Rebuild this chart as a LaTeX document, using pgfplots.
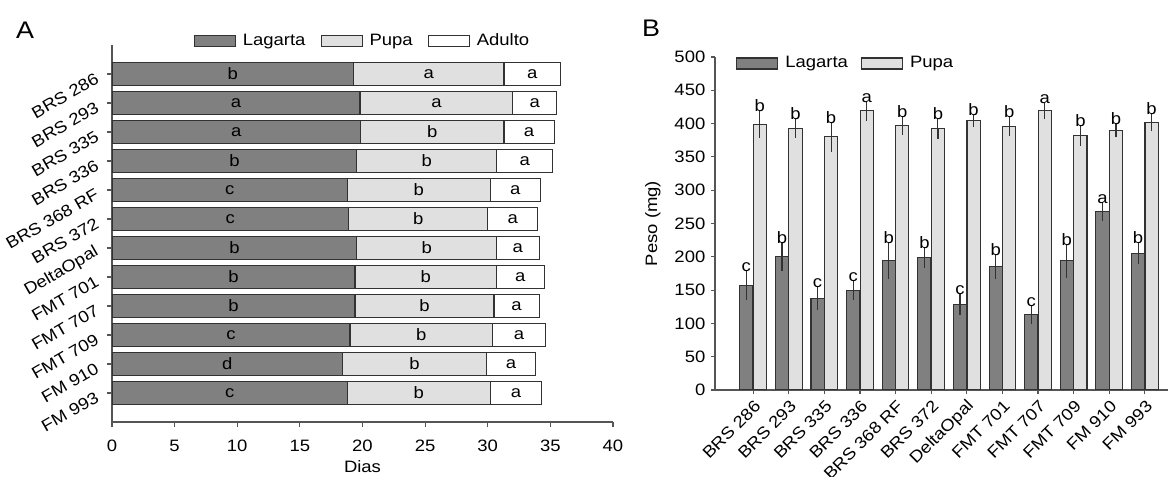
\documentclass[border=0pt]{standalone}
\usepackage{fontspec}
\setmainfont[FakeStretch=1.12]{Liberation Sans}
\usepackage{pgfplots}
\pgfplotsset{compat=1.18}
\usepackage{pgfplotstable}
\definecolor{lag}{RGB}{128,128,128}
\definecolor{pup}{RGB}{224,224,224}
\definecolor{edge}{RGB}{50,50,50}
\definecolor{axc}{RGB}{85,85,85}

\pgfplotstableread{
idx L P A lL lP lA
0 19.30 12.00 4.50 b a a
1 19.80 12.20 3.50 a a a
2 19.85 11.45 4.00 a b a
3 19.55 11.15 4.50 b b a
4 18.80 11.40 4.00 c b a
5 18.90 11.10 4.00 c b a
6 19.55 11.15 3.40 b b a
7 19.40 11.30 3.80 b b a
8 19.40 11.10 3.60 b b a
9 19.00 11.40 4.20 c b a
10 18.40 11.50 3.90 d b a
11 18.80 11.40 4.10 c b a
}\dataA

\pgfplotstableread{
idx Lg LgE Pp PpE lL lP
0 157 15 399 13 c b
1 200 14 393 7 b b
2 138 10 380 15 c b
3 150 8 419 7 c a
4 194 20 397 6 b b
5 199 8 393 8 b b
6 129 9 404 2 c b
7 185 11 396 7 b b
8 113 7 419 5 c a
9 194 18 382 8 b b
10 268 7 390 3 a b
11 205 9 402 6 b b
}\dataB

\begin{document}
\fontsize{16.5bp}{19bp}\selectfont
\begin{tikzpicture}
\path[use as bounding box] (0,0) rectangle (1170bp,477bp);
\node[font=\fontsize{24bp}{28bp}\selectfont] at (25bp,447bp) {A};
\node[font=\fontsize{24bp}{28bp}\selectfont] at (651bp,449bp) {B};
\begin{axis}[
  at={(112bp,55bp)}, anchor=south west,
  scale only axis, width=501bp, height=377bp,
  xbar stacked, bar width=0.8,
  xmin=0, xmax=40, ymin=-1, ymax=12, y dir=reverse,
  xtick={0,5,...,40},
  ytick={0,...,11},
  yticklabels={BRS 286,BRS 293,BRS 335,BRS 336,BRS 368 RF,BRS 372,DeltaOpal,FMT 701,FMT 707,FMT 709,FM 910,FM 993},
  axis x line*=bottom, axis y line*=left,
  axis line style={axc, line width=1.1bp, -},
  tick style={axc, line width=1.1bp},
  tick align=outside, major tick length=5bp,
  yticklabel style={xshift=-8bp, yshift=-2bp, rotate=30, anchor=east, inner sep=2bp},
  xticklabel style={yshift=-7bp},
  /pgf/number format/assume math mode=true,
  xlabel={Dias},
  xlabel style={at={(axis description cs:0.5,-0.117)}, anchor=center},
  legend columns=3,
  legend style={at={(axis description cs:0.5,1)}, anchor=center, yshift=4bp,
    draw=none, fill=none, inner xsep=0pt, inner ysep=0pt,
    /tikz/every odd column/.append style={column sep=5bp},
    /tikz/every even column/.append style={column sep=13bp}},
  legend image code/.code={\draw[#1] (0bp,-5.5bp) rectangle (41bp,5.5bp);},
  every node near coord/.append style={anchor=center, text=black},
]
\addplot[fill=lag, draw=edge, line width=1.1bp,
  nodes near coords, point meta=explicit symbolic]
  table[x=L, y=idx, meta=lL] {\dataA};
\addplot[fill=pup, draw=edge, line width=1.1bp,
  nodes near coords, point meta=explicit symbolic]
  table[x=P, y=idx, meta=lP] {\dataA};
\addplot[fill=white, draw=edge, line width=1.1bp,
  nodes near coords, point meta=explicit symbolic]
  table[x=A, y=idx, meta=lA] {\dataA};
\legend{Lagarta, Pupa, Adulto}
\end{axis}

\begin{axis}[
  at={(715bp,87bp)}, anchor=south west,
  scale only axis, width=453bp, height=333bp,
  ybar, bar width=0.37,
  xmin=-1.07, xmax=11.65, ymin=0, ymax=500,
  ytick={0,50,...,500},
  xtick={0,...,11},
  xticklabels={BRS 286,BRS 293,BRS 335,BRS 336,BRS 368 RF,BRS 372,DeltaOpal,FMT 701,FMT 707,FMT 709,FM 910,FM 993},
  xticklabel style={xshift=6bp, yshift=-8bp, rotate=45, anchor=east, inner sep=2bp},
  axis x line*=bottom, axis y line*=left,
  axis line style={axc, line width=1.1bp, -},
  tick style={axc, line width=1.1bp},
  tick align=outside, major tick length=4bp,
  /pgf/number format/assume math mode=true,
  ylabel={Peso (mg)},
  ylabel style={at={(axis description cs:-0.137,0.5)}, anchor=center},
  legend columns=2,
  legend style={at={(axis description cs:0,1)}, anchor=west, xshift=21bp, yshift=-6.5bp,
    draw=none, fill=none, inner xsep=0pt, inner ysep=0pt,
    /tikz/every odd column/.append style={column sep=5bp},
    /tikz/every even column/.append style={column sep=11bp}},
  legend image code/.code={\draw[#1] (0bp,-5.5bp) rectangle (41bp,5.5bp);},
  every node near coord/.append style={anchor=south, text=black, inner sep=3bp},
]
\addplot[fill=lag, draw=edge, line width=1.1bp, bar shift=-0.19,
  nodes near coords, point meta=explicit symbolic,
  visualization depends on={\thisrow{LgE} \as \err},
  every node near coord/.append style={yshift=0.6685*\err},
  error bars/y dir=both, error bars/y explicit,
  error bars/error bar style={edge, line width=1.1bp},
  error bars/error mark options={edge, line width=1.1bp, mark size=5bp}]
  table[x=idx, y=Lg, y error=LgE, meta=lL] {\dataB};
\addplot[fill=pup, draw=edge, line width=1.1bp, bar shift=0.19,
  nodes near coords, point meta=explicit symbolic,
  visualization depends on={\thisrow{PpE} \as \err},
  every node near coord/.append style={yshift=0.6685*\err},
  error bars/y dir=both, error bars/y explicit,
  error bars/error bar style={edge, line width=1.1bp},
  error bars/error mark options={edge, line width=1.1bp, mark size=5bp}]
  table[x=idx, y=Pp, y error=PpE, meta=lP] {\dataB};
\legend{Lagarta, Pupa}
\end{axis}
\end{tikzpicture}
\end{document}
